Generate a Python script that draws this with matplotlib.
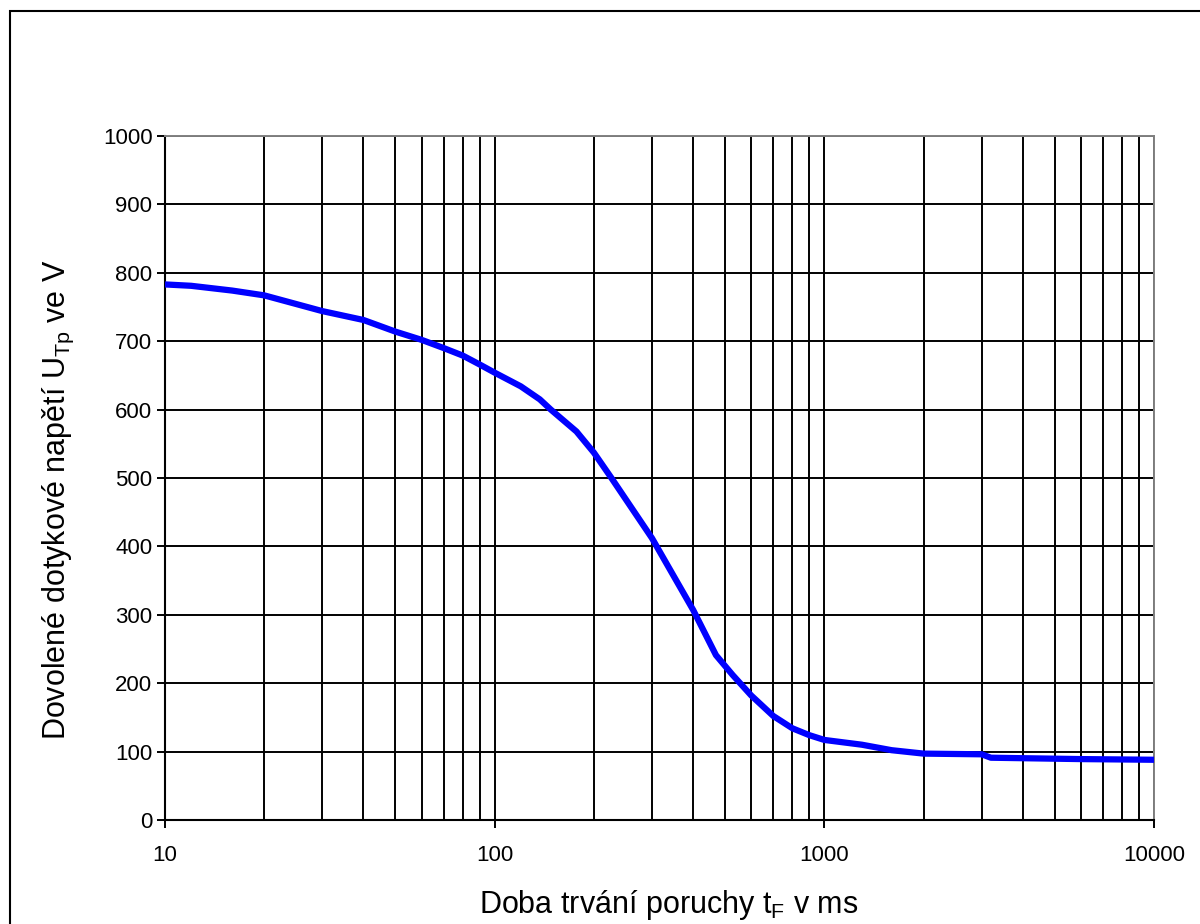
import matplotlib.pyplot as plt
from matplotlib.patches import Rectangle
from matplotlib.ticker import FixedLocator, NullFormatter

plt.rcParams['font.family'] = ['Liberation Sans', 'DejaVu Sans']

# doba trvani poruchy [ms] a dovolene dotykove napeti [V]
t_ms = [10, 12, 16, 20, 30, 40, 50, 60, 70, 80, 90, 100, 120, 137, 148,
        177, 200, 226, 300, 400, 469, 527, 600, 700, 800, 900, 1000, 1300,
        1600, 2000, 3000, 3200, 6000, 10000]
u_tp = [783, 781, 774, 767, 744, 731, 714, 702, 690, 679, 666, 654, 634,
        615, 600, 568, 537, 500, 412, 307, 241, 212, 182, 152, 134, 124,
        117, 110, 102, 97, 96, 91, 89, 88]

x_ticks = [10, 100, 1000, 10000]
x_ticklabels = ['10', '100', '1000', '10000']
y_ticks = list(range(0, 1001, 100))

fig = plt.figure(figsize=(12, 9.24), dpi=100)
ax = fig.add_axes([0.1375, 0.1126, 0.8242, 0.7402])

ax.plot(t_ms, u_tp, color='#0000ff', lw=4.5, solid_joinstyle='round',
        solid_capstyle='butt', zorder=3)

ax.set_xscale('log')
ax.set_xlim(10, 10000)
ax.set_ylim(0, 1000)
ax.set_xticks(x_ticks)
ax.set_xticklabels(x_ticklabels)
minors = [m * 10 ** d for d in range(1, 4) for m in range(2, 10)]
ax.xaxis.set_minor_locator(FixedLocator(minors))
ax.xaxis.set_minor_formatter(NullFormatter())
ax.set_yticks(y_ticks)

ax.grid(True, which='both', axis='x', color='black', lw=1.4)
ax.grid(True, which='major', axis='y', color='black', lw=1.4)

ax.tick_params(axis='x', which='major', direction='out', length=6, width=1.4,
               pad=12, labelsize=16)
ax.tick_params(axis='x', which='minor', length=0)
ax.tick_params(axis='y', direction='out', length=6, width=1.4, pad=3,
               labelsize=16)

for s in ['left', 'bottom']:
    ax.spines[s].set_color('black')
    ax.spines[s].set_linewidth(1.5)
for s in ['top', 'right']:
    ax.spines[s].set_color('#808080')
    ax.spines[s].set_linewidth(1.4)

fig.text(0.557, 0.021, 'Doba trvání poruchy $\\mathregular{t_F}$ v ms',
         ha='center', va='center', fontsize=22)
fig.text(0.049, 0.459, 'Dovolené dotykové napětí $\\mathregular{U_{Tp}}$ ve V',
         ha='center', va='center', rotation=90, fontsize=22)

# ramecek kolem obrazku
fig.patches.append(Rectangle((10 / 1200, -0.1), 1.2, 1 - 11 / 924 + 0.1,
                             transform=fig.transFigure, fill=False,
                             edgecolor='black', lw=1.5))

fig.savefig('out.png', dpi=100)
